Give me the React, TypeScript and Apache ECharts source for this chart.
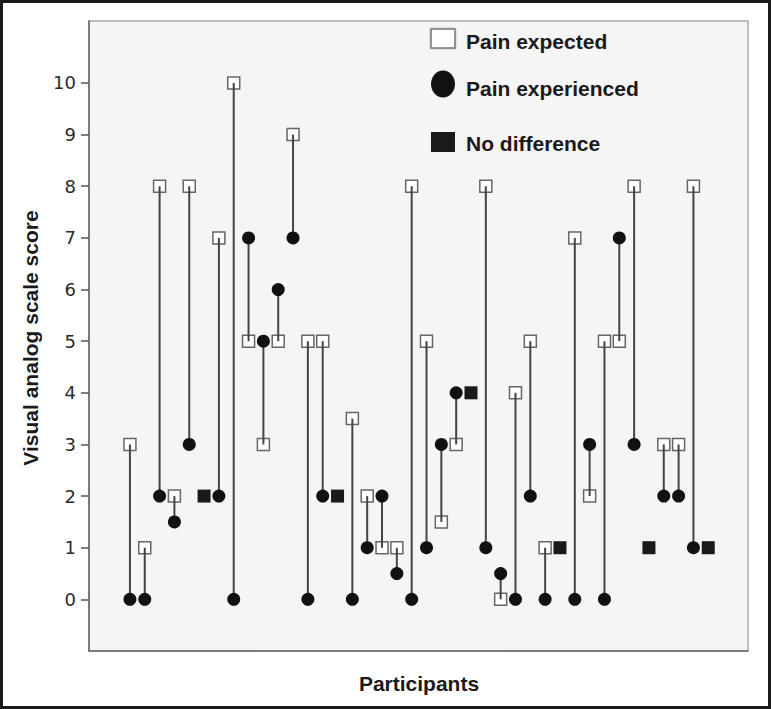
import React, { useEffect, useRef } from "react";
import * as echarts from "echarts";

const participants = Array.from({ length: 40 }, (_, i) => i + 1);
const painExpected: (number | null)[] = [
  3, 1, 8, 2, 8, null, 7, 10, 5, 3, 5, 9, 5, 5, null, 3.5, 2, 1, 1, 8,
  5, 1.5, 3, null, 8, 0, 4, 5, 1, null, 7, 2, 5, 5, 8, null, 3, 3, 8, null,
];
const painExperienced: (number | null)[] = [
  0, 0, 2, 1.5, 3, null, 2, 0, 7, 5, 6, 7, 0, 2, null, 0, 1, 2, 0.5, 0,
  1, 3, 4, null, 1, 0.5, 0, 2, 0, null, 0, 3, 0, 7, 3, null, 2, 2, 1, null,
];
const noDifference: (number | null)[] = [
  null, null, null, null, null, 2, null, null, null, null, null, null, null, null, 2, null, null, null, null, null,
  null, null, null, 4, null, null, null, null, null, 1, null, null, null, null, null, 1, null, null, null, 1,
];
const yTicks = [0, 1, 2, 3, 4, 5, 6, 7, 8, 9, 10];
const legendItems = ["Pain expected", "Pain experienced", "No difference"];
const yTitle = "Visual analog scale score";
const xTitle = "Participants";

export default function App() {
  const ref = useRef<HTMLDivElement>(null);
  useEffect(() => {
    document.body.style.margin = "0";
    const chart = echarts.init(ref.current!, null, { renderer: "svg" });
    const pairs = participants
      .map((p, i) => [p, painExpected[i], painExperienced[i]])
      .filter((d) => d[1] != null && d[2] != null);
    const expData = participants.map((p, i) => (painExpected[i] == null ? null : [p, painExpected[i]])).filter(Boolean);
    const experData = participants.map((p, i) => (painExperienced[i] == null ? null : [p, painExperienced[i]])).filter(Boolean);
    const ndData = participants.map((p, i) => (noDifference[i] == null ? null : [p, noDifference[i]])).filter(Boolean);
    const font = "'Liberation Sans', Arial, sans-serif";
    chart.setOption({
      animation: false,
      backgroundColor: "#ffffff",
      grid: {
        left: 89,
        top: 21,
        right: 23,
        bottom: 58,
        show: true,
        backgroundColor: "#f5f5f5",
        borderColor: "#a8a8a8",
        borderWidth: 1.5,
      },
      xAxis: {
        type: "value",
        min: -1.76,
        max: 42.68,
        axisLine: { show: true, onZero: false, lineStyle: { color: "#666", width: 1.5 } },
        axisTick: { show: false },
        axisLabel: { show: false },
        splitLine: { show: false },
      },
      yAxis: {
        type: "value",
        min: -1,
        max: 11.2,
        axisLine: { show: true, onZero: false, lineStyle: { color: "#666", width: 1.5 } },
        axisTick: { show: true, length: 8, customValues: yTicks, lineStyle: { color: "#555", width: 1.5 } },
        axisLabel: {
          customValues: yTicks,
          margin: 13,
          fontFamily: "'DejaVu Sans', sans-serif",
          fontSize: 18,
          color: "#2a2a2a",
        },
        splitLine: { show: false },
      },
      series: [
        {
          name: "Pain expected",
          type: "scatter",
          symbol: "rect",
          symbolSize: 12,
          data: expData,
          itemStyle: { color: "#ffffff", borderColor: "#666", borderWidth: 1.5, opacity: 1 },
          z: 2,
        },
        {
          name: "links",
          type: "custom",
          data: pairs,
          encode: { x: 0, y: [1, 2] },
          renderItem: (params: any, api: any) => {
            const a = api.coord([api.value(0), api.value(1)]);
            const b = api.coord([api.value(0), api.value(2)]);
            return {
              type: "line",
              shape: { x1: a[0], y1: a[1], x2: b[0], y2: b[1] },
              style: { stroke: "#444", lineWidth: 2 },
            };
          },
          z: 3,
        },
        {
          name: "Pain experienced",
          type: "scatter",
          symbol: "circle",
          symbolSize: 13,
          data: experData,
          itemStyle: { color: "#111111", opacity: 1 },
          z: 4,
        },
        {
          name: "No difference",
          type: "scatter",
          symbol: "rect",
          symbolSize: 13,
          data: ndData,
          itemStyle: { color: "#1a1a1a", opacity: 1 },
          z: 4,
        },
      ],
      graphic: [
        {
          type: "rect",
          shape: { x: 1.5, y: 1.5, width: 768, height: 706 },
          style: { fill: "none", stroke: "#1a1a1a", lineWidth: 3 },
          z: 10,
        },
        {
          type: "rect",
          shape: { x: 431, y: 29, width: 24, height: 19 },
          style: { fill: "#ffffff", stroke: "#777", lineWidth: 1.5, shadowBlur: 2, shadowColor: "rgba(0,0,0,0.3)" },
          z: 10,
        },
        {
          type: "ellipse",
          shape: { cx: 443, cy: 84, rx: 12, ry: 13.5 },
          style: { fill: "#111" },
          z: 10,
        },
        {
          type: "rect",
          shape: { x: 431, y: 132, width: 24, height: 20 },
          style: { fill: "#1a1a1a" },
          z: 10,
        },
        ...legendItems.map((t, i) => ({
          type: "text",
          x: 466,
          y: [41, 88, 143][i],
          style: {
            text: t,
            font: `bold 21px ${font}`,
            fill: "#1a1a1a",
            verticalAlign: "middle",
          },
          z: 10,
        })),
        {
          type: "text",
          x: 30,
          y: 338,
          rotation: Math.PI / 2,
          style: {
            text: yTitle,
            font: `bold 21px ${font}`,
            fill: "#1a1a1a",
            align: "center",
            verticalAlign: "middle",
          },
          z: 10,
        },
        {
          type: "text",
          x: 419,
          y: 683,
          style: {
            text: xTitle,
            font: `bold 21px ${font}`,
            fill: "#1a1a1a",
            align: "center",
            verticalAlign: "middle",
          },
          z: 10,
        },
      ],
    });
    return () => chart.dispose();
  }, []);
  return <div ref={ref} style={{ width: 771, height: 709 }} />;
}
